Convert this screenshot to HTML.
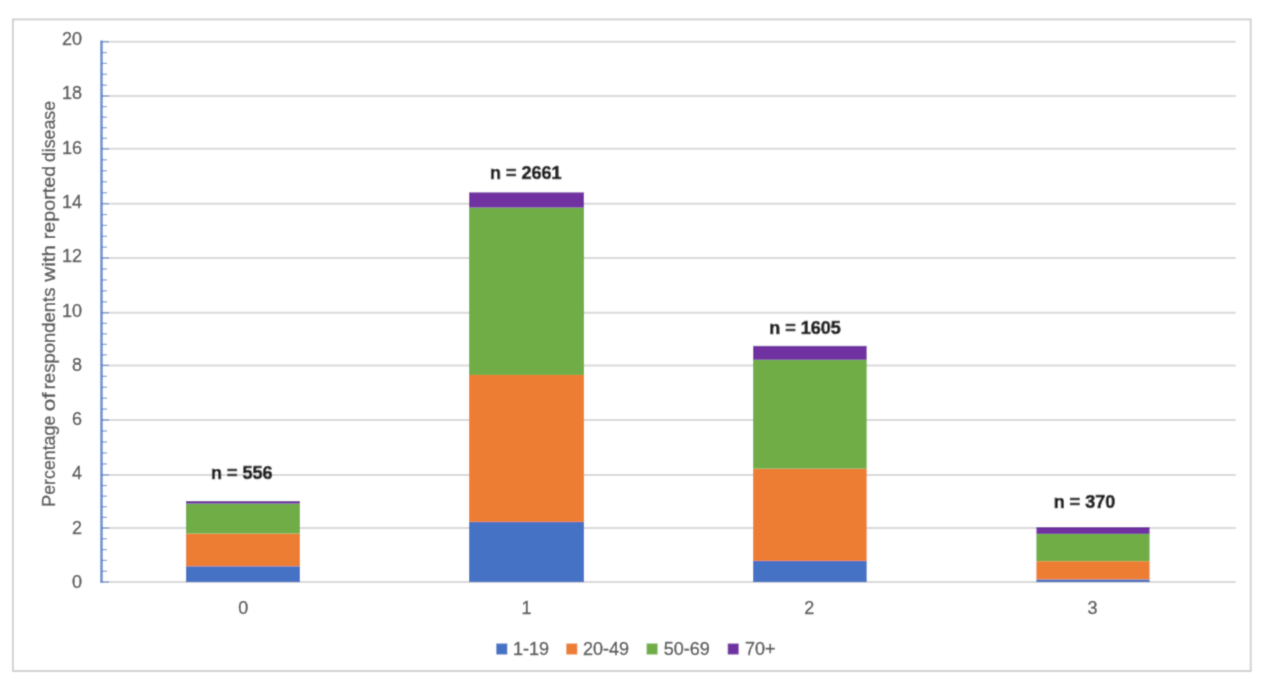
<!DOCTYPE html><html><head><meta charset="utf-8"><style>html,body{margin:0;padding:0;background:#fff;width:1267px;height:680px;overflow:hidden}svg{display:block}text{font-family:"Liberation Sans",sans-serif}.r{stroke:#595959;stroke-width:0.4px}</style></head><body>
<svg width="1267" height="680" viewBox="0 0 1267 680">
<defs><filter id="bl" x="0" y="0" width="1267" height="680" filterUnits="userSpaceOnUse"><feConvolveMatrix order="3" kernelMatrix="1 4 1 4 16 4 1 4 1" divisor="36" edgeMode="duplicate"/></filter></defs>
<g filter="url(#bl)">
<rect x="0" y="0" width="1267" height="680" fill="#fff"/>
<rect x="12.9" y="19.4" width="1237.80" height="651.60" fill="none" stroke="#D2D2D2" stroke-width="2"/>
<line x1="101.5" y1="41.70" x2="1235.7" y2="41.70" stroke="#D9D9D9" stroke-width="2"/>
<line x1="101.5" y1="96.00" x2="1235.7" y2="96.00" stroke="#D9D9D9" stroke-width="2"/>
<line x1="101.5" y1="148.85" x2="1235.7" y2="148.85" stroke="#D9D9D9" stroke-width="2"/>
<line x1="101.5" y1="203.70" x2="1235.7" y2="203.70" stroke="#D9D9D9" stroke-width="2"/>
<line x1="101.5" y1="258.00" x2="1235.7" y2="258.00" stroke="#D9D9D9" stroke-width="2"/>
<line x1="101.5" y1="312.80" x2="1235.7" y2="312.80" stroke="#D9D9D9" stroke-width="2"/>
<line x1="101.5" y1="365.40" x2="1235.7" y2="365.40" stroke="#D9D9D9" stroke-width="2"/>
<line x1="101.5" y1="420.00" x2="1235.7" y2="420.00" stroke="#D9D9D9" stroke-width="2"/>
<line x1="101.5" y1="474.90" x2="1235.7" y2="474.90" stroke="#D9D9D9" stroke-width="2"/>
<line x1="101.5" y1="528.00" x2="1235.7" y2="528.00" stroke="#D9D9D9" stroke-width="2"/>
<line x1="101.5" y1="582.00" x2="1235.7" y2="582.00" stroke="#D9D9D9" stroke-width="2"/>
<rect x="185.95" y="566.25" width="113.99" height="15.85" fill="#4472C4"/>
<rect x="185.95" y="533.60" width="113.99" height="32.65" fill="#ED7D31"/>
<rect x="185.95" y="503.60" width="113.99" height="30.00" fill="#70AD47"/>
<rect x="185.95" y="501.00" width="113.99" height="2.60" fill="#7030A0"/>
<rect x="469.06" y="521.90" width="114.98" height="60.20" fill="#4472C4"/>
<rect x="469.06" y="375.00" width="114.98" height="146.90" fill="#ED7D31"/>
<rect x="469.06" y="207.60" width="114.98" height="167.40" fill="#70AD47"/>
<rect x="469.06" y="192.35" width="114.98" height="15.25" fill="#7030A0"/>
<rect x="753.06" y="560.90" width="113.66" height="21.20" fill="#4472C4"/>
<rect x="753.06" y="468.70" width="113.66" height="92.20" fill="#ED7D31"/>
<rect x="753.06" y="359.80" width="113.66" height="108.90" fill="#70AD47"/>
<rect x="753.06" y="345.85" width="113.66" height="13.95" fill="#7030A0"/>
<rect x="1036.39" y="579.40" width="113.22" height="2.70" fill="#4472C4"/>
<rect x="1036.39" y="561.20" width="113.22" height="18.20" fill="#ED7D31"/>
<rect x="1036.39" y="533.90" width="113.22" height="27.30" fill="#70AD47"/>
<rect x="1036.39" y="527.06" width="113.22" height="6.84" fill="#7030A0"/>
<line x1="101.5" y1="40.5" x2="101.5" y2="583" stroke="#4472C4" stroke-width="2.8" opacity="0.72"/>
<line x1="101.5" y1="41.70" x2="109.0" y2="41.70" stroke="#4472C4" stroke-width="1.2" opacity="0.7"/>
<line x1="101.5" y1="52.56" x2="107.0" y2="52.56" stroke="#4472C4" stroke-width="1.2" opacity="0.7"/>
<line x1="101.5" y1="63.42" x2="107.0" y2="63.42" stroke="#4472C4" stroke-width="1.2" opacity="0.7"/>
<line x1="101.5" y1="74.28" x2="107.0" y2="74.28" stroke="#4472C4" stroke-width="1.2" opacity="0.7"/>
<line x1="101.5" y1="85.14" x2="107.0" y2="85.14" stroke="#4472C4" stroke-width="1.2" opacity="0.7"/>
<line x1="101.5" y1="96.00" x2="109.0" y2="96.00" stroke="#4472C4" stroke-width="1.2" opacity="0.7"/>
<line x1="101.5" y1="106.57" x2="107.0" y2="106.57" stroke="#4472C4" stroke-width="1.2" opacity="0.7"/>
<line x1="101.5" y1="117.14" x2="107.0" y2="117.14" stroke="#4472C4" stroke-width="1.2" opacity="0.7"/>
<line x1="101.5" y1="127.71" x2="107.0" y2="127.71" stroke="#4472C4" stroke-width="1.2" opacity="0.7"/>
<line x1="101.5" y1="138.28" x2="107.0" y2="138.28" stroke="#4472C4" stroke-width="1.2" opacity="0.7"/>
<line x1="101.5" y1="148.85" x2="109.0" y2="148.85" stroke="#4472C4" stroke-width="1.2" opacity="0.7"/>
<line x1="101.5" y1="159.82" x2="107.0" y2="159.82" stroke="#4472C4" stroke-width="1.2" opacity="0.7"/>
<line x1="101.5" y1="170.79" x2="107.0" y2="170.79" stroke="#4472C4" stroke-width="1.2" opacity="0.7"/>
<line x1="101.5" y1="181.76" x2="107.0" y2="181.76" stroke="#4472C4" stroke-width="1.2" opacity="0.7"/>
<line x1="101.5" y1="192.73" x2="107.0" y2="192.73" stroke="#4472C4" stroke-width="1.2" opacity="0.7"/>
<line x1="101.5" y1="203.70" x2="109.0" y2="203.70" stroke="#4472C4" stroke-width="1.2" opacity="0.7"/>
<line x1="101.5" y1="214.56" x2="107.0" y2="214.56" stroke="#4472C4" stroke-width="1.2" opacity="0.7"/>
<line x1="101.5" y1="225.42" x2="107.0" y2="225.42" stroke="#4472C4" stroke-width="1.2" opacity="0.7"/>
<line x1="101.5" y1="236.28" x2="107.0" y2="236.28" stroke="#4472C4" stroke-width="1.2" opacity="0.7"/>
<line x1="101.5" y1="247.14" x2="107.0" y2="247.14" stroke="#4472C4" stroke-width="1.2" opacity="0.7"/>
<line x1="101.5" y1="258.00" x2="109.0" y2="258.00" stroke="#4472C4" stroke-width="1.2" opacity="0.7"/>
<line x1="101.5" y1="268.96" x2="107.0" y2="268.96" stroke="#4472C4" stroke-width="1.2" opacity="0.7"/>
<line x1="101.5" y1="279.92" x2="107.0" y2="279.92" stroke="#4472C4" stroke-width="1.2" opacity="0.7"/>
<line x1="101.5" y1="290.88" x2="107.0" y2="290.88" stroke="#4472C4" stroke-width="1.2" opacity="0.7"/>
<line x1="101.5" y1="301.84" x2="107.0" y2="301.84" stroke="#4472C4" stroke-width="1.2" opacity="0.7"/>
<line x1="101.5" y1="312.80" x2="109.0" y2="312.80" stroke="#4472C4" stroke-width="1.2" opacity="0.7"/>
<line x1="101.5" y1="323.32" x2="107.0" y2="323.32" stroke="#4472C4" stroke-width="1.2" opacity="0.7"/>
<line x1="101.5" y1="333.84" x2="107.0" y2="333.84" stroke="#4472C4" stroke-width="1.2" opacity="0.7"/>
<line x1="101.5" y1="344.36" x2="107.0" y2="344.36" stroke="#4472C4" stroke-width="1.2" opacity="0.7"/>
<line x1="101.5" y1="354.88" x2="107.0" y2="354.88" stroke="#4472C4" stroke-width="1.2" opacity="0.7"/>
<line x1="101.5" y1="365.40" x2="109.0" y2="365.40" stroke="#4472C4" stroke-width="1.2" opacity="0.7"/>
<line x1="101.5" y1="376.32" x2="107.0" y2="376.32" stroke="#4472C4" stroke-width="1.2" opacity="0.7"/>
<line x1="101.5" y1="387.24" x2="107.0" y2="387.24" stroke="#4472C4" stroke-width="1.2" opacity="0.7"/>
<line x1="101.5" y1="398.16" x2="107.0" y2="398.16" stroke="#4472C4" stroke-width="1.2" opacity="0.7"/>
<line x1="101.5" y1="409.08" x2="107.0" y2="409.08" stroke="#4472C4" stroke-width="1.2" opacity="0.7"/>
<line x1="101.5" y1="420.00" x2="109.0" y2="420.00" stroke="#4472C4" stroke-width="1.2" opacity="0.7"/>
<line x1="101.5" y1="430.98" x2="107.0" y2="430.98" stroke="#4472C4" stroke-width="1.2" opacity="0.7"/>
<line x1="101.5" y1="441.96" x2="107.0" y2="441.96" stroke="#4472C4" stroke-width="1.2" opacity="0.7"/>
<line x1="101.5" y1="452.94" x2="107.0" y2="452.94" stroke="#4472C4" stroke-width="1.2" opacity="0.7"/>
<line x1="101.5" y1="463.92" x2="107.0" y2="463.92" stroke="#4472C4" stroke-width="1.2" opacity="0.7"/>
<line x1="101.5" y1="474.90" x2="109.0" y2="474.90" stroke="#4472C4" stroke-width="1.2" opacity="0.7"/>
<line x1="101.5" y1="485.52" x2="107.0" y2="485.52" stroke="#4472C4" stroke-width="1.2" opacity="0.7"/>
<line x1="101.5" y1="496.14" x2="107.0" y2="496.14" stroke="#4472C4" stroke-width="1.2" opacity="0.7"/>
<line x1="101.5" y1="506.76" x2="107.0" y2="506.76" stroke="#4472C4" stroke-width="1.2" opacity="0.7"/>
<line x1="101.5" y1="517.38" x2="107.0" y2="517.38" stroke="#4472C4" stroke-width="1.2" opacity="0.7"/>
<line x1="101.5" y1="528.00" x2="109.0" y2="528.00" stroke="#4472C4" stroke-width="1.2" opacity="0.7"/>
<line x1="101.5" y1="538.80" x2="107.0" y2="538.80" stroke="#4472C4" stroke-width="1.2" opacity="0.7"/>
<line x1="101.5" y1="549.60" x2="107.0" y2="549.60" stroke="#4472C4" stroke-width="1.2" opacity="0.7"/>
<line x1="101.5" y1="560.40" x2="107.0" y2="560.40" stroke="#4472C4" stroke-width="1.2" opacity="0.7"/>
<line x1="101.5" y1="571.20" x2="107.0" y2="571.20" stroke="#4472C4" stroke-width="1.2" opacity="0.7"/>
<line x1="101.5" y1="582.00" x2="109.0" y2="582.00" stroke="#4472C4" stroke-width="1.2" opacity="0.7"/>
<text x="82" y="587.90" class="r" font-size="18" fill="#595959" text-anchor="end">0</text>
<text x="82" y="533.62" class="r" font-size="18" fill="#595959" text-anchor="end">2</text>
<text x="82" y="479.34" class="r" font-size="18" fill="#595959" text-anchor="end">4</text>
<text x="82" y="425.06" class="r" font-size="18" fill="#595959" text-anchor="end">6</text>
<text x="82" y="370.78" class="r" font-size="18" fill="#595959" text-anchor="end">8</text>
<text x="82" y="316.50" class="r" font-size="18" fill="#595959" text-anchor="end">10</text>
<text x="82" y="262.22" class="r" font-size="18" fill="#595959" text-anchor="end">12</text>
<text x="82" y="207.94" class="r" font-size="18" fill="#595959" text-anchor="end">14</text>
<text x="82" y="153.66" class="r" font-size="18" fill="#595959" text-anchor="end">16</text>
<text x="82" y="99.38" class="r" font-size="18" fill="#595959" text-anchor="end">18</text>
<text x="82" y="45.10" class="r" font-size="18" fill="#595959" text-anchor="end">20</text>
<text x="243.2" y="613.8" class="r" font-size="18" fill="#595959" text-anchor="middle">0</text>
<text x="526.4" y="613.8" class="r" font-size="18" fill="#595959" text-anchor="middle">1</text>
<text x="809.3" y="613.8" class="r" font-size="18" fill="#595959" text-anchor="middle">2</text>
<text x="1092.4" y="613.8" class="r" font-size="18" fill="#595959" text-anchor="middle">3</text>
<text x="241.7" y="479.1" font-size="18" font-weight="bold" fill="#222" stroke="#222" stroke-width="0.7" text-anchor="middle">n = 556</text>
<text x="525.8" y="179.1" font-size="18" font-weight="bold" fill="#222" stroke="#222" stroke-width="0.7" text-anchor="middle">n = 2661</text>
<text x="805.0" y="334.1" font-size="18" font-weight="bold" fill="#222" stroke="#222" stroke-width="0.7" text-anchor="middle">n = 1605</text>
<text x="1084.4" y="508.1" font-size="18" font-weight="bold" fill="#222" stroke="#222" stroke-width="0.7" text-anchor="middle">n = 370</text>
<text transform="translate(54.8,506.70) rotate(-90)" x="0" y="0" class="r" font-size="17.6" fill="#595959" textLength="91.00" lengthAdjust="spacingAndGlyphs">Percentage</text>
<text transform="translate(54.8,411.20) rotate(-90)" x="0" y="0" class="r" font-size="17.6" fill="#595959" textLength="18.80" lengthAdjust="spacingAndGlyphs">of</text>
<text transform="translate(54.8,389.30) rotate(-90)" x="0" y="0" class="r" font-size="17.6" fill="#595959" textLength="101.80" lengthAdjust="spacingAndGlyphs">respondents</text>
<text transform="translate(54.8,281.70) rotate(-90)" x="0" y="0" class="r" font-size="17.6" fill="#595959" textLength="36.70" lengthAdjust="spacingAndGlyphs">with</text>
<text transform="translate(54.8,239.20) rotate(-90)" x="0" y="0" class="r" font-size="17.6" fill="#595959" textLength="73.30" lengthAdjust="spacingAndGlyphs">reported</text>
<text transform="translate(54.8,162.00) rotate(-90)" x="0" y="0" class="r" font-size="17.6" fill="#595959" textLength="61.00" lengthAdjust="spacingAndGlyphs">disease</text>
<rect x="496.3" y="643.5" width="11" height="11" fill="#4472C4"/>
<text x="513" y="654.8" class="r" font-size="18" fill="#595959">1-19</text>
<rect x="566.3" y="643.5" width="11" height="11" fill="#ED7D31"/>
<text x="583" y="654.8" class="r" font-size="18" fill="#595959">20-49</text>
<rect x="646.6" y="643.5" width="11" height="11" fill="#70AD47"/>
<text x="663.7" y="654.8" class="r" font-size="18" fill="#595959">50-69</text>
<rect x="727.7" y="643.5" width="11" height="11" fill="#7030A0"/>
<text x="745" y="654.8" class="r" font-size="18" fill="#595959">70+</text>
</g></svg></body></html>
